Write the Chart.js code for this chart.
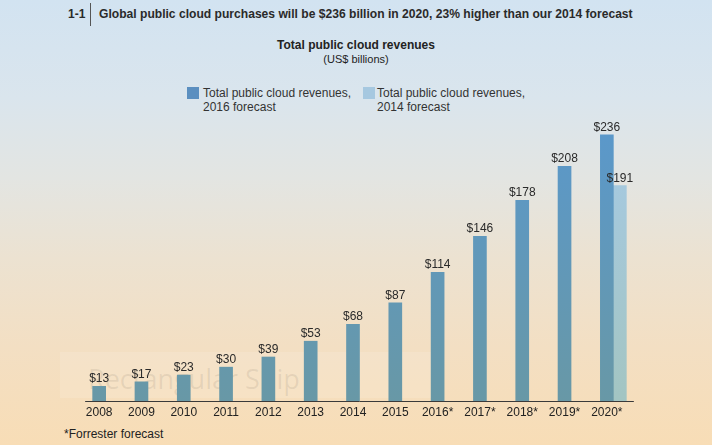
<!DOCTYPE html>
<html>
<head>
<meta charset="utf-8">
<script src="https://cdn.jsdelivr.net/npm/chart.js@4"></script>
<style>
  html, body { margin:0; padding:0; }
  body {
    width:712px; height:445px; position:relative; overflow:hidden;
    font-family:"Liberation Sans", Arial, Helvetica, sans-serif; color:#222;
    background: linear-gradient(to bottom, #d2e3f1 0%, #dae5ed 22%, #e3e5e2 40%, #ece2d1 58%, #f3dfc3 78%, #f8ddb6 100%);
  }
  .abs { position:absolute; white-space:nowrap; }
  #num { left:68px; top:7px; font-weight:bold; font-size:12px; color:#2a2a2a; }
  #vline { left:90px; top:3px; width:1px; height:23px; background:#555; }
  #title { left:99px; top:7px; font-weight:bold; font-size:12.1px; color:#2a2a2a; }
  #sub1 { left:0; width:712px; text-align:center; top:38px; font-weight:bold; font-size:12px; }
  #sub2 { left:0; width:712px; text-align:center; top:53px; font-size:11px; }
  .sw { position:absolute; width:12px; height:12px; }
  .lt { position:absolute; font-size:12px; line-height:14px; color:#333; }
  #foot { left:64px; top:427px; font-size:12px; color:#222; }
  #wm { left:60px; top:352px; width:380px; height:46px; background:rgba(255,255,255,0.12); }
  #wmt { left:88px; top:360px; font-size:27px; color:rgba(110,100,90,0.13); font-family:"Open Sans","Liberation Sans",sans-serif; }
  canvas { position:absolute; left:0; top:0; }
</style>
</head>
<body>
<div class="abs" id="wm"></div>
<div class="abs" id="wmt">Rectangular Ship</div>
<div class="abs" id="num">1-1</div>
<div class="abs" id="vline"></div>
<div class="abs" id="title">Global public cloud purchases will be $236 billion in 2020, 23% higher than our 2014 forecast</div>
<div class="abs" id="sub1">Total public cloud revenues</div>
<div class="abs" id="sub2">(US$ billions)</div>
<div class="sw" style="left:187px; top:87px; background:#5b8fc0;"></div>
<div class="lt" style="left:203px; top:86px;">Total public cloud revenues,<br>2016 forecast</div>
<div class="sw" style="left:363px; top:87px; background:#a6c8e0;"></div>
<div class="lt" style="left:377px; top:86px;">Total public cloud revenues,<br>2014 forecast</div>
<div class="abs" id="foot">*Forrester forecast</div>
<canvas id="c" width="712" height="445"></canvas>
<script>
// ---- data ----
const years = ["2008","2009","2010","2011","2012","2013","2014","2015","2016*","2017*","2018*","2019*","2020*"];
const forecast2016 = [13, 17, 23, 30, 39, 53, 68, 87, 114, 146, 178, 208, 236];
const forecast2014 = [null, null, null, null, null, null, null, null, null, null, null, null, 191];
const placeholder = years.map(() => null);
const seriesNames = ["Total public cloud revenues, 2016 forecast", "Total public cloud revenues, 2014 forecast"];

function vGrad(chart, top, bottom) {
  const a = chart.chartArea;
  if (!a) return top;
  const g = chart.ctx.createLinearGradient(0, a.top, 0, a.bottom);
  g.addColorStop(0, top);
  g.addColorStop(1, bottom);
  return g;
}

const valueLabels = {
  id: 'valueLabels',
  afterDatasetsDraw(chart) {
    const ctx = chart.ctx;
    ctx.save();
    ctx.font = '12px "Liberation Sans", Arial, sans-serif';
    ctx.fillStyle = '#2a2a2a';
    ctx.textAlign = 'center';
    ctx.textBaseline = 'alphabetic';
    chart.data.datasets.forEach((ds, i) => {
      if (!ds.showValues) return;
      const meta = chart.getDatasetMeta(i);
      meta.data.forEach((el, j) => {
        const v = ds.data[j];
        if (v == null) return;
        ctx.fillText('$' + v, el.x, el.y - 4);
      });
    });
    ctx.restore();
  }
};

const axisLine = {
  id: 'axisLine',
  afterDatasetsDraw(chart) {
    const x = chart.scales.x, y = chart.scales.y;
    const ctx = chart.ctx;
    const yy = Math.round(y.getPixelForValue(0)) + 0.5;
    ctx.save();
    ctx.strokeStyle = '#3a3a3a';
    ctx.lineWidth = 1;
    ctx.beginPath();
    ctx.moveTo(x.getPixelForValue(0) - 14, yy);
    ctx.lineTo(x.getPixelForValue(years.length - 1) + 27, yy);
    ctx.stroke();
    ctx.restore();
  }
};

new Chart(document.getElementById('c'), {
  type: 'bar',
  data: {
    labels: years,
    datasets: [
      { label: '_pad', data: placeholder, backgroundColor: 'rgba(0,0,0,0)' },
      { label: seriesNames[0], data: forecast2016, showValues: true,
        backgroundColor: (c) => vGrad(c.chart, '#5a98cc', '#6898a6') },
      { label: seriesNames[1], data: forecast2014, showValues: true,
        backgroundColor: (c) => vGrad(c.chart, '#a6cae6', '#a3c5c2') }
    ]
  },
  options: {
    responsive: false,
    animation: false,
    devicePixelRatio: 1,
    layout: { padding: { left: 78, right: 84, top: 119, bottom: 0 } },
    datasets: { bar: { barThickness: 13, borderWidth: 0 } },
    plugins: { legend: { display: false }, tooltip: { enabled: false }, title: { display: false } },
    scales: {
      x: {
        grid: { display: false, drawTicks: false },
        border: { display: false },
        ticks: { color: '#222', padding: 4, font: { family: '"Liberation Sans", Arial, sans-serif', size: 12 } },
        afterFit(s) { s.height = 44; }
      },
      y: { display: false, min: 0, max: 250 }
    }
  },
  plugins: [valueLabels, axisLine]
});
</script>
</body>
</html>
